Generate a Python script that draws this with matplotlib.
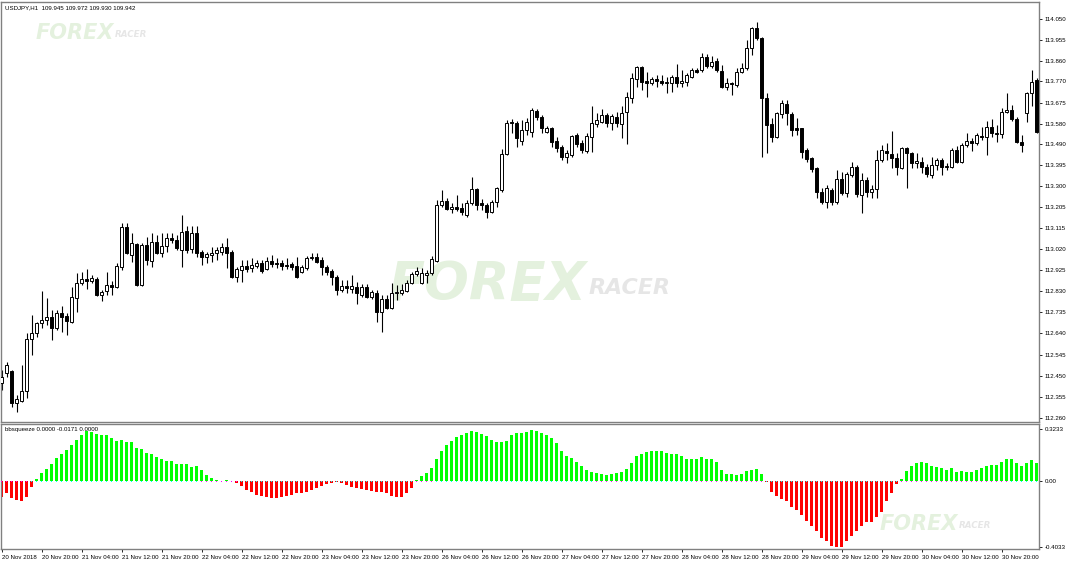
import matplotlib
matplotlib.use("Agg")
import matplotlib.pyplot as plt
import numpy as np

# ---------------- data ----------------
symbol_header = "USDJPY,H1  109.945 109.972 109.930 109.942"
indicator_header = "bbsqueeze 0.0000 -0.0171 0.0000"

opens = [112.418, 112.463, 112.472, 112.328, 112.337, 112.382, 112.615, 112.642, 112.687, 112.700,
         112.714, 112.664, 112.732, 112.718, 112.691, 112.799, 112.866, 112.884, 112.875, 112.884,
         112.812, 112.831, 112.857, 112.848, 112.938, 113.118, 112.992, 113.041, 112.857, 113.037,
         112.965, 113.050, 113.001, 113.032, 113.068, 113.059, 113.014, 113.100, 113.019, 113.091,
         113.005, 112.983, 112.992, 113.001, 113.005, 113.028, 113.005, 112.893, 112.924, 112.942,
         112.933, 112.942, 112.956, 112.929, 112.965, 112.956, 112.956, 112.947, 112.951, 112.942,
         112.915, 112.933, 112.978, 112.983, 112.969, 112.938, 112.920, 112.893, 112.835, 112.853,
         112.839, 112.848, 112.812, 112.848, 112.803, 112.821, 112.736, 112.794, 112.754, 112.821,
         112.821, 112.831, 112.866, 112.906, 112.866, 112.902, 112.911, 112.965, 113.216, 113.234,
         113.198, 113.207, 113.203, 113.171, 113.225, 113.288, 113.225, 113.216, 113.185, 113.229,
         113.283, 113.444, 113.588, 113.583, 113.503, 113.552, 113.543, 113.637, 113.610, 113.543,
         113.561, 113.503, 113.476, 113.431, 113.440, 113.530, 113.494, 113.458, 113.521, 113.579,
         113.588, 113.619, 113.583, 113.610, 113.579, 113.633, 113.696, 113.781, 113.835, 113.772,
         113.763, 113.781, 113.772, 113.763, 113.763, 113.790, 113.763, 113.767, 113.790, 113.821,
         113.821, 113.879, 113.839, 113.862, 113.817, 113.745, 113.763, 113.754, 113.812, 113.830,
         113.920, 114.009, 113.965, 113.696, 113.579, 113.521, 113.624, 113.669, 113.624, 113.561,
         113.561, 113.462, 113.427, 113.382, 113.274, 113.229, 113.283, 113.229, 113.332, 113.270,
         113.350, 113.386, 113.261, 113.328, 113.274, 113.288, 113.418, 113.458, 113.444, 113.427,
         113.382, 113.471, 113.449, 113.404, 113.409, 113.386, 113.350, 113.395, 113.418, 113.386,
         113.386, 113.462, 113.409, 113.485, 113.503, 113.494, 113.525, 113.521, 113.566, 113.539,
         113.534, 113.633, 113.642, 113.601, 113.498, 113.628, 113.718, 113.776]
highs = [112.476, 112.512, 112.476, 112.364, 112.499, 112.642, 112.723, 112.691, 112.831, 112.799,
         112.745, 112.745, 112.763, 112.732, 112.848, 112.911, 112.915, 112.929, 112.902, 112.893,
         112.835, 112.915, 112.875, 112.956, 113.136, 113.136, 113.091, 113.046, 113.046, 113.072,
         113.091, 113.082, 113.091, 113.091, 113.091, 113.082, 113.171, 113.122, 113.122, 113.122,
         113.014, 113.005, 113.028, 113.028, 113.046, 113.068, 113.014, 112.938, 112.969, 112.969,
         112.978, 112.969, 112.969, 112.983, 112.992, 112.978, 112.969, 112.978, 112.960, 112.983,
         112.947, 112.987, 113.001, 113.001, 112.983, 112.947, 112.929, 112.902, 112.879, 112.879,
         112.902, 112.870, 112.862, 112.862, 112.835, 112.835, 112.812, 112.812, 112.866, 112.857,
         112.862, 112.879, 112.915, 112.938, 112.933, 112.924, 112.987, 113.238, 113.283, 113.247,
         113.225, 113.260, 113.225, 113.238, 113.341, 113.292, 113.243, 113.225, 113.238, 113.297,
         113.467, 113.597, 113.601, 113.592, 113.597, 113.606, 113.651, 113.646, 113.619, 113.570,
         113.566, 113.521, 113.485, 113.462, 113.530, 113.539, 113.507, 113.539, 113.660, 113.628,
         113.646, 113.628, 113.624, 113.633, 113.660, 113.722, 113.808, 113.839, 113.839, 113.812,
         113.790, 113.799, 113.799, 113.790, 113.799, 113.848, 113.821, 113.808, 113.830, 113.830,
         113.897, 113.893, 113.884, 113.875, 113.844, 113.785, 113.767, 113.830, 113.853, 113.956,
         114.014, 114.036, 113.969, 113.718, 113.606, 113.633, 113.687, 113.687, 113.633, 113.606,
         113.561, 113.471, 113.431, 113.386, 113.292, 113.306, 113.292, 113.373, 113.364, 113.364,
         113.409, 113.395, 113.359, 113.341, 113.306, 113.462, 113.485, 113.494, 113.548, 113.449,
         113.476, 113.476, 113.453, 113.449, 113.431, 113.400, 113.431, 113.427, 113.427, 113.404,
         113.471, 113.480, 113.494, 113.539, 113.516, 113.539, 113.566, 113.592, 113.601, 113.575,
         113.651, 113.718, 113.664, 113.610, 113.530, 113.722, 113.821, 113.785]
lows = [112.386, 112.445, 112.310, 112.287, 112.332, 112.350, 112.544, 112.624, 112.664, 112.678,
        112.610, 112.655, 112.646, 112.633, 112.687, 112.736, 112.857, 112.839, 112.866, 112.808,
        112.785, 112.812, 112.812, 112.843, 112.924, 112.996, 112.960, 112.853, 112.853, 112.947,
        112.938, 112.996, 112.983, 113.005, 113.046, 113.014, 112.938, 113.001, 113.001, 112.983,
        112.947, 112.956, 112.960, 112.969, 112.992, 112.933, 112.888, 112.870, 112.870, 112.915,
        112.915, 112.933, 112.911, 112.924, 112.938, 112.933, 112.924, 112.929, 112.924, 112.888,
        112.911, 112.924, 112.969, 112.956, 112.902, 112.902, 112.857, 112.812, 112.826, 112.821,
        112.821, 112.772, 112.803, 112.799, 112.794, 112.691, 112.646, 112.749, 112.749, 112.790,
        112.812, 112.826, 112.862, 112.897, 112.862, 112.866, 112.902, 112.960, 113.207, 113.193,
        113.180, 113.189, 113.171, 113.162, 113.216, 113.193, 113.193, 113.158, 113.180, 113.207,
        113.274, 113.440, 113.539, 113.476, 113.485, 113.530, 113.521, 113.597, 113.539, 113.539,
        113.476, 113.453, 113.418, 113.404, 113.431, 113.476, 113.449, 113.449, 113.453, 113.566,
        113.583, 113.566, 113.552, 113.566, 113.516, 113.489, 113.673, 113.745, 113.731, 113.700,
        113.754, 113.745, 113.754, 113.718, 113.722, 113.745, 113.745, 113.749, 113.785, 113.808,
        113.812, 113.830, 113.830, 113.812, 113.740, 113.731, 113.709, 113.745, 113.808, 113.821,
        113.888, 113.956, 113.431, 113.449, 113.498, 113.516, 113.606, 113.575, 113.525, 113.530,
        113.427, 113.409, 113.364, 113.247, 113.220, 113.203, 113.216, 113.220, 113.261, 113.252,
        113.341, 113.252, 113.180, 113.252, 113.247, 113.247, 113.409, 113.418, 113.382, 113.350,
        113.377, 113.292, 113.382, 113.382, 113.359, 113.341, 113.337, 113.373, 113.350, 113.373,
        113.382, 113.404, 113.404, 113.476, 113.458, 113.485, 113.507, 113.440, 113.521, 113.498,
        113.516, 113.628, 113.592, 113.494, 113.453, 113.588, 113.660, 113.540]
closes = [112.445, 112.499, 112.328, 112.346, 112.382, 112.615, 112.642, 112.687, 112.700, 112.714,
          112.664, 112.732, 112.714, 112.696, 112.803, 112.866, 112.884, 112.875, 112.888, 112.812,
          112.826, 112.857, 112.848, 112.942, 113.118, 113.001, 113.046, 112.857, 113.037, 112.969,
          113.050, 113.001, 113.032, 113.068, 113.059, 113.023, 113.095, 113.014, 113.091, 113.001,
          112.983, 112.996, 113.001, 113.014, 113.028, 113.001, 112.893, 112.929, 112.942, 112.929,
          112.947, 112.956, 112.920, 112.965, 112.951, 112.951, 112.942, 112.942, 112.938, 112.893,
          112.938, 112.978, 112.983, 112.960, 112.938, 112.915, 112.893, 112.835, 112.853, 112.843,
          112.853, 112.821, 112.848, 112.803, 112.826, 112.736, 112.794, 112.754, 112.821, 112.826,
          112.835, 112.866, 112.906, 112.920, 112.911, 112.911, 112.974, 113.216, 113.234, 113.198,
          113.207, 113.198, 113.185, 113.225, 113.288, 113.216, 113.216, 113.185, 113.229, 113.292,
          113.444, 113.583, 113.583, 113.516, 113.552, 113.588, 113.642, 113.610, 113.561, 113.561,
          113.498, 113.471, 113.431, 113.449, 113.525, 113.489, 113.462, 113.525, 113.583, 113.597,
          113.619, 113.583, 113.615, 113.583, 113.628, 113.700, 113.785, 113.835, 113.767, 113.763,
          113.781, 113.772, 113.763, 113.767, 113.790, 113.763, 113.772, 113.799, 113.821, 113.812,
          113.879, 113.839, 113.857, 113.821, 113.745, 113.763, 113.758, 113.812, 113.830, 113.920,
          114.009, 113.965, 113.696, 113.575, 113.521, 113.628, 113.673, 113.628, 113.552, 113.552,
          113.453, 113.422, 113.377, 113.274, 113.229, 113.292, 113.229, 113.332, 113.270, 113.355,
          113.386, 113.265, 113.328, 113.274, 113.288, 113.418, 113.462, 113.449, 113.427, 113.386,
          113.471, 113.449, 113.404, 113.413, 113.386, 113.355, 113.395, 113.418, 113.386, 113.391,
          113.462, 113.409, 113.485, 113.503, 113.494, 113.530, 113.521, 113.566, 113.539, 113.534,
          113.633, 113.642, 113.601, 113.498, 113.485, 113.718, 113.767, 113.543]

squeeze_hist = [-0.095, -0.074, -0.100, -0.117, -0.123, -0.095, -0.032, 0.017, 0.049, 0.074,
                0.106, 0.142, 0.170, 0.191, 0.223, 0.255, 0.287, 0.308, 0.301, 0.291,
                0.282, 0.282, 0.265, 0.248, 0.255, 0.244, 0.240, 0.202, 0.197, 0.176,
                0.170, 0.149, 0.138, 0.127, 0.123, 0.106, 0.106, 0.106, 0.091, 0.096,
                0.068, 0.038, 0.021, 0.006, 0.004, 0.011, 0.004, -0.011, -0.028, -0.053,
                -0.068, -0.081, -0.089, -0.096, -0.102, -0.100, -0.096, -0.089, -0.081, -0.070,
                -0.070, -0.066, -0.053, -0.038, -0.028, -0.017, -0.011, -0.006, -0.011, -0.021,
                -0.032, -0.042, -0.049, -0.053, -0.060, -0.064, -0.068, -0.074, -0.089, -0.096,
                -0.096, -0.074, -0.040, 0.008, 0.032, 0.053, 0.085, 0.138, 0.187, 0.223,
                0.248, 0.270, 0.287, 0.297, 0.312, 0.305, 0.293, 0.276, 0.255, 0.244,
                0.240, 0.250, 0.285, 0.297, 0.297, 0.301, 0.313, 0.306, 0.298, 0.285,
                0.264, 0.234, 0.189, 0.158, 0.143, 0.121, 0.094, 0.072, 0.057, 0.051,
                0.043, 0.036, 0.047, 0.051, 0.057, 0.074, 0.111, 0.153, 0.168, 0.181,
                0.189, 0.189, 0.185, 0.174, 0.170, 0.168, 0.158, 0.138, 0.138, 0.138,
                0.147, 0.138, 0.138, 0.117, 0.068, 0.047, 0.043, 0.036, 0.043, 0.064,
                0.068, 0.074, 0.043, -0.006, -0.064, -0.092, -0.106, -0.123, -0.155, -0.177,
                -0.209, -0.241, -0.272, -0.304, -0.347, -0.368, -0.398, -0.403, -0.403, -0.368,
                -0.336, -0.304, -0.272, -0.251, -0.247, -0.219, -0.187, -0.123, -0.070, -0.017,
                0.015, 0.064, 0.094, 0.115, 0.121, 0.111, 0.094, 0.089, 0.083, 0.072,
                0.079, 0.057, 0.062, 0.057, 0.057, 0.068, 0.079, 0.094, 0.100, 0.100,
                0.121, 0.136, 0.136, 0.115, 0.094, 0.111, 0.132, 0.111]

# index ranges (inclusive) where the squeeze dot on the zero line is magenta (else cyan)
squeeze_on_ranges = [(0, 5), (40, 47), (83, 86), (119, 124), (139, 152), (180, 201)]

price_ticks = [114.050, 113.955, 113.860, 113.770, 113.675, 113.580, 113.490, 113.395, 113.300,
               113.205, 113.115, 113.020, 112.925, 112.830, 112.735, 112.640, 112.545, 112.450,
               112.355, 112.260]
hist_ticks = [0.3233, 0.0, -0.4033]
hist_tick_labels = ["0.3233", "0.00", "-0.4033"]
time_labels = ["20 Nov 2018", "20 Nov 20:00", "21 Nov 04:00", "21 Nov 12:00", "21 Nov 20:00",
               "22 Nov 04:00", "22 Nov 12:00", "22 Nov 20:00", "23 Nov 04:00", "23 Nov 12:00",
               "23 Nov 20:00", "26 Nov 04:00", "26 Nov 12:00", "26 Nov 20:00", "27 Nov 04:00",
               "27 Nov 12:00", "27 Nov 20:00", "28 Nov 04:00", "28 Nov 12:00", "28 Nov 20:00",
               "29 Nov 04:00", "29 Nov 12:00", "29 Nov 20:00", "30 Nov 04:00", "30 Nov 12:00",
               "30 Nov 20:00"]
bars_per_label = 8

# ---------------- figure ----------------
plt.rcParams["font.family"] = ["Liberation Sans", "DejaVu Sans"]
FS = 4.4
W, H = 1068, 564
fig = plt.figure(figsize=(W / 100, H / 100), dpi=100)


def px(l, t, r, b):
    return [l / W, 1 - b / H, (r - l) / W, (b - t) / H]


ax = fig.add_axes(px(1, 2, 1039, 422))
ax2 = fig.add_axes(px(1, 424, 1039, 549))

o = np.array(opens); h = np.array(highs); l = np.array(lows); c = np.array(closes)
n = len(o)
x = np.arange(n)
up = c >= o
bb = np.minimum(o, c)
bh = np.abs(c - o)

ax.vlines(x, l, h, color="black", lw=0.8, zorder=2)
ax.bar(x[up], bh[up], bottom=bb[up], width=0.62, color="white", edgecolor="black",
       linewidth=0.7, zorder=3)
ax.bar(x[~up], bh[~up], bottom=bb[~up], width=0.62, color="black", edgecolor="black",
       linewidth=0.7, zorder=3)

xlim = (-0.14, 207.46)
ax.set_xlim(*xlim)
ax.set_ylim(112.243, 114.126)
ax.yaxis.tick_right()
ax.set_yticks(price_ticks)
ax.set_yticklabels([f"{v:.3f}" for v in price_ticks], fontsize=FS)
ax.tick_params(axis="y", direction="out", length=2.5, width=0.6, pad=1.5, colors="black")
ax.set_xticks([])
for s in ax.spines.values():
    s.set_color("#808080")
    s.set_linewidth(1.0)

ax.text(0.004, 0.992, symbol_header, transform=ax.transAxes, fontsize=FS, va="top", ha="left")


# watermark logos
def logo(axis, xf, yf, size):
    t1 = axis.text(xf, yf, "FOREX", transform=axis.transAxes, fontsize=size, fontweight="bold",
                   fontstyle="italic", color="#e4f1de", ha="left", va="center", zorder=0.5,
                   family="DejaVu Sans")
    axis.annotate("RACER", xy=(1.0, 0.45), xycoords=t1, xytext=(1, 0),
                  textcoords="offset points", fontsize=size * 0.42, fontweight="bold",
                  fontstyle="italic", color="#e6e6e6", ha="left", va="center", zorder=0.5,
                  family="DejaVu Sans", annotation_clip=False)


logo(ax, 0.033, 0.926, 15)
logo(ax, 0.374, 0.326, 38)

# histogram
hv = np.array(squeeze_hist)
cols = np.where(hv >= 0, "#00ff00", "#ff0000")
ax2.bar(x, hv, width=0.62, color=cols, zorder=2)
dot_cols = np.array(["#00ffff"] * n, dtype=object)
for a, b in squeeze_on_ranges:
    dot_cols[a:b + 1] = "#ff00ff"
ax2.scatter(x, np.zeros(n), s=1.2, marker="s", c=list(dot_cols), linewidths=0, zorder=3)
ax2.set_xlim(*xlim)
ax2.set_ylim(-0.415, 0.352)
ax2.yaxis.tick_right()
ax2.set_yticks(hist_ticks)
ax2.set_yticklabels(hist_tick_labels, fontsize=FS)
ax2.tick_params(axis="y", direction="out", length=2.5, width=0.6, pad=1.5)
tick_pos = np.arange(len(time_labels)) * bars_per_label
ax2.set_xticks(tick_pos)
ax2.set_xticklabels(time_labels, fontsize=FS, ha="left")
ax2.tick_params(axis="x", direction="out", length=2.5, width=0.6, pad=2)
for s in ax2.spines.values():
    s.set_color("#808080")
    s.set_linewidth(1.0)
ax2.text(0.004, 0.975, indicator_header, transform=ax2.transAxes, fontsize=FS, va="top", ha="left")
logo(ax2, 0.846, 0.2, 15)

fig.savefig("out.png", dpi=100, facecolor="white")
